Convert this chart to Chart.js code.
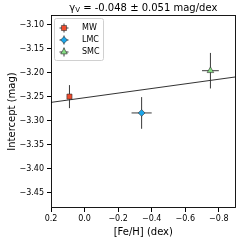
<!DOCTYPE html>
<html><head><meta charset="utf-8">
<script src="https://cdn.jsdelivr.net/npm/chart.js@4/dist/chart.umd.min.js"></script>
<style>html,body{margin:0;padding:0;background:#fff}#w{width:240px;height:240px}</style>
</head><body><div id="w"><canvas id="c" width="240" height="240"></canvas></div>
<script>
const categories = ['MW', 'LMC', 'SMC'];
const feh = [0.09, -0.34, -0.75];
const fehErr = [0.015, 0.06, 0.05];
const intercept = [-3.250, -3.284, -3.196];
const interceptErr = [0.024, 0.033, 0.037];
const fitX = [0.2, -0.9];
const fitY = [-3.262, -3.209];
const xTicks = [0.2, 0.0, -0.2, -0.4, -0.6, -0.8];
const xTickLabels = ['0.2', '0.0', '\u22120.2', '\u22120.4', '\u22120.6', '\u22120.8'];
const yTicks = [-3.10, -3.15, -3.20, -3.25, -3.30, -3.35, -3.40, -3.45];
const yTickLabels = ['\u22123.10', '\u22123.15', '\u22123.20', '\u22123.25', '\u22123.30', '\u22123.35', '\u22123.40', '\u22123.45'];
const titleMain = '\u03b3';
const titleSub = 'V';
const titleRest = ' = -0.048 \u00b1 0.051 mag/dex';

const colors = ['#ef4b2c', '#1ca6ea', '#86dd84'];
const styles = ['rect', 'rectRot', 'triangle'];
const radii = [3.6, 3.4, 3.8];
const FONT = 'DejaVu Sans';
Chart.defaults.font.family = FONT;
Chart.defaults.color = '#000';

const datasets = categories.map((name, i) => ({
  type: 'scatter', label: name,
  data: [{x: feh[i], y: intercept[i]}],
  backgroundColor: colors[i], borderColor: '#333', borderWidth: 0.6,
  pointStyle: styles[i], pointRadius: radii[i], pointHoverRadius: radii[i]
}));
datasets.unshift({
  type: 'line', label: 'fit',
  data: fitX.map((x, i) => ({x, y: fitY[i]})),
  borderColor: '#333', borderWidth: 1, pointRadius: 0, fill: false
});

const errPlugin = {
  id: 'err',
  beforeDatasetsDraw(chart) {
    const {ctx, scales: {x, y}} = chart;
    ctx.save();
    ctx.strokeStyle = '#3a3a3a'; ctx.lineWidth = 1;
    categories.forEach((n, i) => {
      const px = x.getPixelForValue(feh[i]), py = y.getPixelForValue(intercept[i]);
      ctx.beginPath();
      ctx.moveTo(x.getPixelForValue(feh[i] - fehErr[i]), py);
      ctx.lineTo(x.getPixelForValue(feh[i] + fehErr[i]), py);
      ctx.moveTo(px, y.getPixelForValue(intercept[i] - interceptErr[i]));
      ctx.lineTo(px, y.getPixelForValue(intercept[i] + interceptErr[i]));
      ctx.stroke();
    });
    ctx.restore();
  },
  afterDraw(chart) {
    const {ctx, chartArea: a} = chart;
    ctx.save();
    ctx.strokeStyle = '#000'; ctx.lineWidth = 0.9;
    ctx.strokeRect(Math.round(a.left) + 0.5, Math.round(a.top) + 0.5, Math.round(a.right - a.left) - 1, Math.round(a.bottom - a.top) - 1);
    // title
    ctx.fillStyle = '#000'; ctx.textBaseline = 'middle';
    ctx.font = '10px "' + FONT + '"';
    const w1 = ctx.measureText(titleMain).width, w3 = ctx.measureText(titleRest).width;
    ctx.font = '7px "' + FONT + '"';
    const w2 = ctx.measureText(titleSub).width;
    let tx = (a.left + a.right) / 2 - (w1 + w2 + w3) / 2;
    const ty = 8;
    ctx.font = '10px "' + FONT + '"'; ctx.textAlign = 'left';
    ctx.fillText(titleMain, tx, ty); tx += w1;
    ctx.font = '7px "' + FONT + '"'; ctx.fillText(titleSub, tx, ty + 2); tx += w2;
    ctx.font = '10px "' + FONT + '"'; ctx.fillText(titleRest, tx, ty);
    // legend
    const bx = 54, by = 18, bw = 49, bh = 42;
    ctx.beginPath();
    if (ctx.roundRect) ctx.roundRect(bx + 0.5, by + 0.5, bw, bh, 2); else ctx.rect(bx + 0.5, by + 0.5, bw, bh);
    ctx.fillStyle = 'rgba(255,255,255,0.8)'; ctx.fill();
    ctx.strokeStyle = '#d0d0d0'; ctx.lineWidth = 1; ctx.stroke();
    categories.forEach((n, i) => {
      const mx = 64, my = 28 + i * 12;
      ctx.strokeStyle = '#3a3a3a'; ctx.lineWidth = 1;
      ctx.beginPath();
      ctx.moveTo(mx - 4.5, my); ctx.lineTo(mx + 4.5, my);
      ctx.moveTo(mx, my - 4.5); ctx.lineTo(mx, my + 4.5);
      ctx.stroke();
      ctx.fillStyle = colors[i]; ctx.strokeStyle = '#333'; ctx.lineWidth = 0.6;
      Chart.helpers.drawPoint(ctx, {pointStyle: styles[i], radius: radii[i], rotation: 0, borderWidth: 0.6}, mx, my);
      ctx.fillStyle = '#000';
      ctx.font = '8px "' + FONT + '"'; ctx.textAlign = 'left'; ctx.textBaseline = 'middle';
      ctx.fillText(n, 82, my);
    });
    ctx.restore();
  }
};

new Chart(document.getElementById('c'), {
  data: {datasets},
  options: {
    responsive: false, animation: false,
    layout: {padding: {top: 15, right: 1, left: 0, bottom: 0}},
    plugins: {legend: {display: false}, title: {display: false}, tooltip: {enabled: false}},
    scales: {
      x: {
        type: 'linear', reverse: true, min: -0.9, max: 0.2,
        afterFit: s => { s.height = 32; },
        afterBuildTicks: s => { s.ticks = xTicks.map(v => ({value: v})); },
        ticks: {callback: (v, i) => xTickLabels[i], font: {size: 8}, padding: 2, maxRotation: 0, autoSkip: false, color: '#000'},
        grid: {drawOnChartArea: false, drawTicks: true, tickLength: 4, color: '#000'},
        border: {display: false},
        title: {display: true, text: '[Fe/H] (dex)', font: {size: 10}, padding: {top: 0, bottom: 2}, color: '#000'}
      },
      y: {
        type: 'linear', min: -3.482, max: -3.08,
        afterFit: s => { s.width = 51; },
        afterBuildTicks: s => { s.ticks = yTicks.map(v => ({value: v})); },
        ticks: {callback: (v, i) => yTickLabels[i], font: {size: 8}, padding: 3, autoSkip: false, color: '#000'},
        grid: {drawOnChartArea: false, drawTicks: true, tickLength: 4, color: '#000'},
        border: {display: false},
        title: {display: true, text: 'Intercept (mag)', font: {size: 10}, padding: {top: 6, bottom: 0}, color: '#000'}
      }
    }
  },
  plugins: [errPlugin]
});
</script></body></html>
